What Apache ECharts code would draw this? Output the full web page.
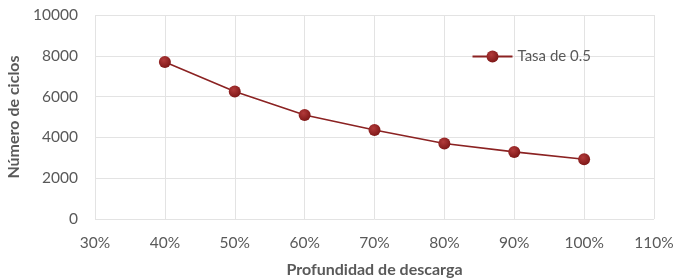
<!DOCTYPE html>
<html>
<head>
<meta charset="utf-8">
<style>
  html, body { margin: 0; padding: 0; background: #fff; }
  #chart { width: 676px; height: 279px; }
</style>
<script src="https://cdn.jsdelivr.net/npm/echarts@6/dist/echarts.min.js"></script>
</head>
<body>
<div id="chart"></div>
<script>
// profundidad de descarga (%) y número de ciclos
var depth = [40, 50, 60, 70, 80, 90, 100];
var cycles = [7700, 6250, 5100, 4360, 3700, 3290, 2930];
var seriesName = 'Tasa de 0.5';

var chart = echarts.init(document.getElementById('chart'));

var points = depth.map(function (d, i) {
    return [d, cycles[i]];
});

var labelFont = { color: '#595959', fontFamily: 'Lato', fontSize: 15.5 };
var titleFont = { color: '#595959', fontFamily: 'Lato', fontSize: 16, fontWeight: 'bold' };

chart.setOption({
    animation: false,
    grid: { left: 95, right: 22, top: 15, bottom: 60, containLabel: false, outerBoundsMode: 'none' },
    legend: {
        data: [seriesName],
        right: 80,
        top: 44,
        itemWidth: 40,
        itemHeight: 15,
        itemGap: 4,
        textStyle: { color: '#595959', fontFamily: 'Lato', fontSize: 15 }
    },
    xAxis: {
        type: 'value',
        min: 30,
        max: 110,
        interval: 10,
        name: 'Profundidad de descarga',
        nameLocation: 'middle',
        nameGap: 43,
        nameTextStyle: titleFont,
        axisLine: { show: false },
        axisTick: { show: false },
        axisLabel: Object.assign({ formatter: '{value}%', margin: 16 }, labelFont),
        splitLine: { show: true, lineStyle: { color: '#e3e3e3', width: 1 } }
    },
    yAxis: {
        type: 'value',
        min: 0,
        max: 10000,
        interval: 2000,
        name: 'Número de ciclos',
        nameLocation: 'middle',
        nameGap: 69,
        nameTextStyle: titleFont,
        axisLine: { show: false },
        axisTick: { show: false },
        axisLabel: Object.assign({
            margin: 17,
            formatter: function (v) { return String(v); }
        }, labelFont),
        splitLine: { show: true, lineStyle: { color: '#e3e3e3', width: 1 } }
    },
    series: [{
        name: seriesName,
        type: 'line',
        data: points,
        symbol: 'circle',
        symbolSize: 12,
        lineStyle: { color: '#8b2222', width: 1.6 },
        itemStyle: {
            color: new echarts.graphic.RadialGradient(0.4, 0.35, 0.7, [
                { offset: 0, color: '#b23a3a' },
                { offset: 1, color: '#7a1515' }
            ]),
            borderWidth: 0
        }
    }]
});
</script>
</body>
</html>
